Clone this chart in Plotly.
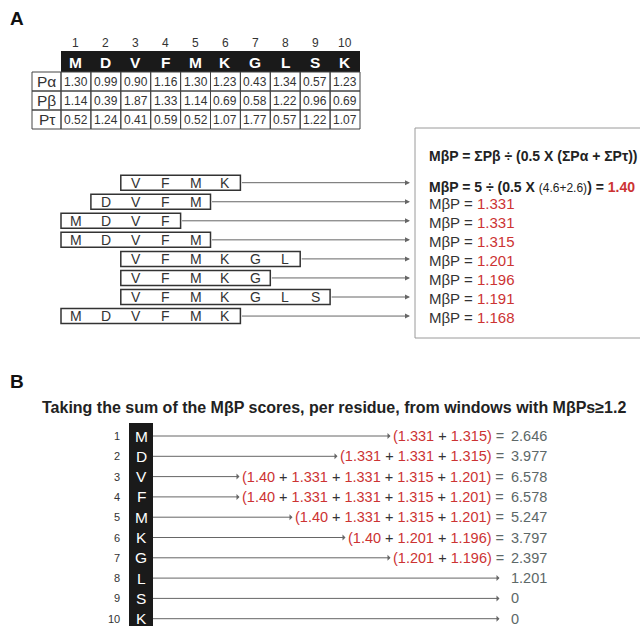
import plotly.graph_objects as go

# ---------------- data ----------------
residues = list("MDVFMKGLSK")
positions = list(range(1, 11))
param_labels = ["Pα", "Pβ", "Pτ"]
p_alpha = [1.30, 0.99, 0.90, 1.16, 1.30, 1.23, 0.43, 1.34, 0.57, 1.23]
p_beta = [1.14, 0.39, 1.87, 1.33, 1.14, 0.69, 0.58, 1.22, 0.96, 0.69]
p_turn = [0.52, 1.24, 0.41, 0.59, 0.52, 1.07, 1.77, 0.57, 1.22, 1.07]

window_start = [3, 2, 1, 1, 3, 3, 3, 1]
window_end = [6, 5, 4, 5, 8, 7, 9, 6]
window_mbp = ["1.40", "1.331", "1.331", "1.315", "1.201", "1.196", "1.191", "1.168"]

formula_text = "MβP = ΣPβ ÷ (0.5 X (ΣPα + ΣPτ))"
example_sum_beta = "5"
example_sum_alpha = "4.6"
example_sum_turn = "2.6"

b_title = "Taking the sum of the MβP scores, per residue, from windows with MβPs≥1.2"
b_terms = [
    ["1.331", "1.315"],
    ["1.331", "1.331", "1.315"],
    ["1.40", "1.331", "1.331", "1.315", "1.201"],
    ["1.40", "1.331", "1.331", "1.315", "1.201"],
    ["1.40", "1.331", "1.315", "1.201"],
    ["1.40", "1.201", "1.196"],
    ["1.201", "1.196"],
    [],
    [],
    [],
]
b_sums = ["2.646", "3.977", "6.578", "6.578", "5.247", "3.797", "2.397", "1.201", "0", "0"]

# ---------------- style / layout ----------------
W, H = 640, 626
FONT = "Arial, Liberation Sans, sans-serif"
RED = "#cc3333"
DARK = "#333333"
GRAY = "#5d6868"

TX0, CW = 61.0, 29.9
LBL_X0 = 32.0
NUM_Y = 43
HDR_Y0, HDR_Y1 = 51, 72
ROW_H = 19.0

WIN_Y0, WIN_DY, WIN_H = 182.7, 19.05, 15
ARROW_X = 410
BOX_X0, BOX_Y0, BOX_Y1 = 415, 128, 338
TXT_X = 427

B_Y0, B_DY = 436, 20.3
BCOL_X0, BCOL_X1 = 129, 153
B_VAL_X = 509

shapes = []
ann = []


def col_center(i):
    return TX0 + CW * (i - 0.5)


def text(x, y, s, size=12, color=DARK, xanchor="center", bold=False, **kw):
    if bold:
        s = "<b>" + s + "</b>"
    ann.append(dict(x=x, y=y, xref="x", yref="y", text=s, showarrow=False,
                    font=dict(family=FONT, size=size, color=color),
                    xanchor=xanchor, yanchor="middle", **kw))


def rect(x0, y0, x1, y1, line="#333", width=1, fill=None):
    shapes.append(dict(type="rect", xref="x", yref="y", x0=x0, y0=y0, x1=x1, y1=y1,
                       line=dict(color=line, width=width),
                       fillcolor=fill if fill else "rgba(0,0,0,0)", layer="below"))


# ---------- Panel A ----------
text(17, 18, "A", size=19, color="#111", bold=True)

# column numbers + header
rect(TX0, HDR_Y0, TX0 + CW * len(residues), HDR_Y1, line="#1a1a1a", width=0, fill="#1a1a1a")
for i, (p, r) in enumerate(zip(positions, residues)):
    cx = col_center(i + 1)
    text(cx, NUM_Y, str(p), size=12, color=DARK)
    text(cx, (HDR_Y0 + HDR_Y1) / 2 + 0.5, r, size=15.5, color="white", bold=True)

# parameter rows
for j, (lab, vals) in enumerate(zip(param_labels, [p_alpha, p_beta, p_turn])):
    y0 = HDR_Y1 + ROW_H * j
    y1 = y0 + ROW_H
    rect(LBL_X0, y0, TX0, y1, line="#444", width=1)
    text((LBL_X0 + TX0) / 2, (y0 + y1) / 2, lab, size=15.5, color=DARK)
    for i, v in enumerate(vals):
        rect(TX0 + CW * i, y0, TX0 + CW * (i + 1), y1, line="#444", width=1)
        text(col_center(i + 1), (y0 + y1) / 2, f"{v:.2f}", size=12, color=DARK)

# formula box
rect(BOX_X0, BOX_Y0, W + 20, BOX_Y1, line="#9a9a9a", width=1, fill="white")

# windows
for k, (s, e, m) in enumerate(zip(window_start, window_end, window_mbp)):
    ry = WIN_Y0 + WIN_DY * k
    x0 = TX0 + CW * (s - 1)
    x1 = TX0 + CW * e
    rect(x0, ry - WIN_H / 2, x1, ry + WIN_H / 2, line="#333", width=1.5)
    for i in range(s, e + 1):
        text(col_center(i), ry, residues[i - 1], size=14, color=DARK)
    ann.append(dict(x=ARROW_X, y=ry, ax=x1, ay=ry, xref="x", yref="y", axref="x", ayref="y",
                    text="", showarrow=True, arrowhead=2, arrowsize=1, arrowwidth=1,
                    arrowcolor="#666"))
    if k == 0:
        s_txt = (f"<b>MβP = {example_sum_beta} ÷ (0.5 X </b><span style='font-size:12px'>"
                 f"({example_sum_alpha}+{example_sum_turn})</span><b>) = </b>"
                 f"<b><span style='color:{RED}'>{m}</span></b>")
        text(TXT_X, ry + 4.5, s_txt, size=14, color="#222", xanchor="left")
    else:
        s_txt = f"MβP = <span style='color:{RED}'>{m}</span>"
        text(TXT_X, ry + 1.5, s_txt, size=15, color=DARK, xanchor="left")

text(TXT_X, 156, "<b>" + formula_text + "</b>", size=14, color="#222", xanchor="left")

# ---------- Panel B ----------
text(17, 381, "B", size=19, color="#111", bold=True)
text(334, 407, b_title, size=16, color="#222", bold=True)

rect(BCOL_X0, 423, BCOL_X1, H + 10, line="#1a1a1a", width=0, fill="#1a1a1a")
for i, (p, r, terms, tot) in enumerate(zip(positions, residues, b_terms, b_sums)):
    ry = B_Y0 + B_DY * i
    text(122, ry, str(p), size=11, color=DARK, xanchor="right")
    text((BCOL_X0 + BCOL_X1) / 2, ry, r, size=15.5, color="white")
    if terms:
        expr = (f"<span style='color:{RED}'>(</span>"
                + f" <span style='color:{DARK}'>+</span> ".join(
                    f"<span style='color:{RED}'>{t}</span>" for t in terms)
                + f"<span style='color:{RED}'>)</span> <span style='color:{GRAY}'>=</span>")
        tail = B_VAL_X - 3
    else:
        expr = ""
        tail = B_VAL_X - 5
    ann.append(dict(x=BCOL_X1, y=ry, ax=tail, ay=ry, xref="x", yref="y", axref="x", ayref="y",
                    text=expr, showarrow=True, arrowside="start", arrowhead=2, arrowsize=1,
                    arrowwidth=1, arrowcolor="#666", xanchor="right", yanchor="middle",
                    font=dict(family=FONT, size=14.5, color=DARK), startstandoff=1))
    text(B_VAL_X, ry, tot, size=14.5, color=GRAY, xanchor="left")

fig = go.Figure()
fig.update_layout(
    width=W, height=H, margin=dict(l=0, r=0, t=0, b=0),
    paper_bgcolor="white", plot_bgcolor="white",
    xaxis=dict(range=[0, W], visible=False, fixedrange=True),
    yaxis=dict(range=[H, 0], visible=False, fixedrange=True),
    shapes=shapes, annotations=ann, showlegend=False,
)
fig.write_html("out.html")
